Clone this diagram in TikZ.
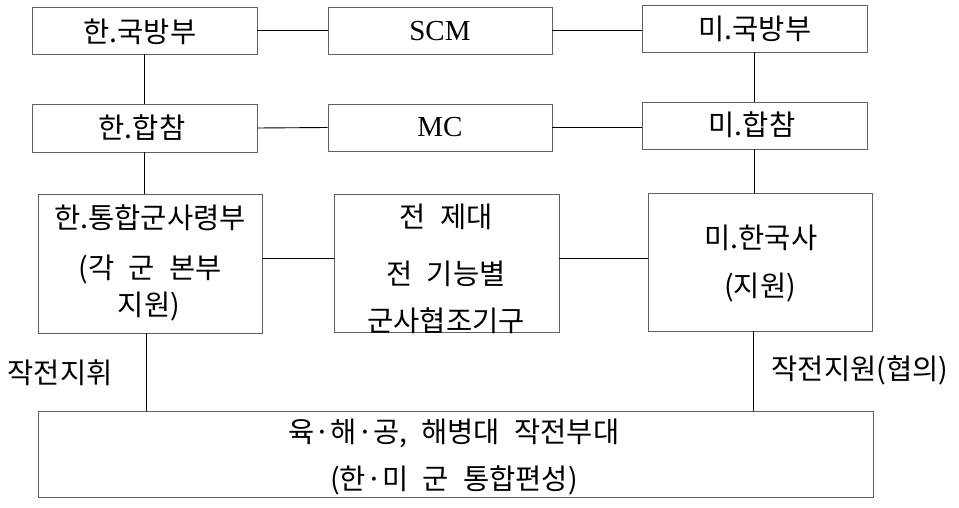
\documentclass[tikz,border=0pt]{standalone}
\usepackage{fontspec}
\setmainfont{Noto Sans CJK KR}
\newfontfamily\lat{Liberation Serif}
\newcommand\krtxt{\fontsize{28.5}{32}\selectfont\spaceskip=0.5em\relax}
\begin{document}
\begin{tikzpicture}[x=1pt,y=-1pt,
  box/.style={draw=gray!75!black, line width=0.9pt, inner sep=0pt},
  conn/.style={draw=black, line width=0.9pt},
  txt/.style={inner sep=0pt, font=\krtxt},
  ltxt/.style={inner sep=0pt, font=\lat\fontsize{29}{32}\selectfont}]
\useasboundingbox[fill=white] (0,0) rectangle (959,508);
% boxes
\node[box, minimum width=225, minimum height=47] (kmnd) at (144.5,30.5) {};
\node[box, minimum width=224, minimum height=47] (scm)  at (440,30.5) {};
\node[box, minimum width=225, minimum height=47] (umnd) at (754.5,28.5) {};
\node[box, minimum width=225, minimum height=48] (kjcs) at (144.5,128) {};
\node[box, minimum width=224, minimum height=47] (mc)   at (440,127.5) {};
\node[box, minimum width=225, minimum height=47] (ujcs) at (754.5,125.5) {};
\node[box, minimum width=224, minimum height=139] (kcmd) at (150,263.5) {};
\node[box, minimum width=225, minimum height=138] (mid)  at (446.5,263) {};
\node[box, minimum width=224, minimum height=138] (usfk) at (760,262) {};
\node[box, minimum width=835, minimum height=86] (bot)  at (455.5,454) {};
% texts
\node[txt] (t1) at (140,32) {한.국방부};
\node[ltxt] (t2) at (440,31) {SCM};
\node[txt] (t3) at (755,29) {미.국방부};
\node[txt] (t4) at (142,128) {한.합참};
\node[ltxt] (t5) at (440,127) {MC};
\node[txt] (t6) at (752,125) {미.합참};
\node[txt] (t7) at (150,218) {한.통합군사령부};
\node[txt] (t8) at (150,270) {(각 군 본부};
\node[txt] (t9) at (149,307) {지원)};
\node[txt] (t10) at (446,217) {전 제대};
\node[txt] (t11) at (446,274) {전 기능별};
\node[txt] (t12) at (446,321) {군사협조기구};
\node[txt] (t13) at (761,238) {미.한국사};
\node[txt] (t14) at (760,288) {(지원)};
\node[txt] (t15) at (454,433) {육·해·공, 해병대 작전부대};
\node[txt] (t16) at (454,480) {(한·미 군 통합편성)};
\node[txt] (l1) at (60,373) {작전지휘};
\node[txt] (l2) at (860,370) {작전지원(협의)};
% connectors
\draw[conn] (kmnd.east) -- (scm.west);
\draw[conn] (scm.east) -- (scm.east -| umnd.west);
\draw[conn] (kmnd.south) -- (kjcs.north);
\draw[conn] (umnd.south) -- (ujcs.north);
\draw[conn] (kjcs.east) -- (mc.west);
\draw[conn] (mc.east) -- (mc.east -| ujcs.west);
\draw[conn] (kjcs.south) -- (kjcs.south |- kcmd.north);
\draw[conn] (ujcs.south) -- (ujcs.south |- usfk.north);
\draw[conn] ([yshift=5pt]kcmd.east) -- ([yshift=5pt]kcmd.east -| mid.west);
\draw[conn] ([yshift=5pt]mid.east) -- ([yshift=5pt]mid.east -| usfk.west);
\draw[conn] ([xshift=-4pt]kcmd.south) -- ([xshift=-4pt]kcmd.south |- bot.north);
\draw[conn] ([xshift=-7pt]usfk.south) -- ([xshift=-7pt]usfk.south |- bot.north);
\end{tikzpicture}
\end{document}
